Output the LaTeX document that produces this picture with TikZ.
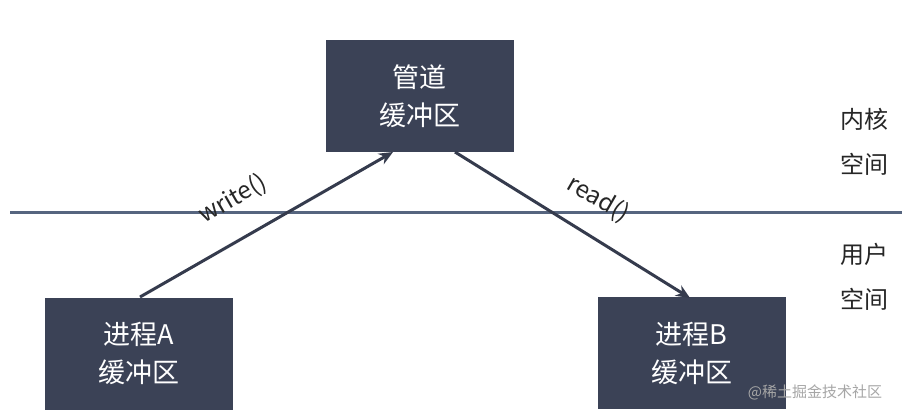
\documentclass[tikz,border=0pt]{standalone}
\usepackage{fontspec}
\setmainfont{Noto Sans CJK SC}
\usetikzlibrary{arrows.meta}
\definecolor{boxc}{HTML}{3B4256}
\definecolor{linec}{HTML}{56657F}
\begin{document}
\begin{tikzpicture}[x=1pt,y=-1pt,
  box/.style={fill=boxc,draw=none,minimum width=188pt,minimum height=112pt,text=white,align=center,font=\fontsize{27}{38}\selectfont},
  arr/.style={draw=boxc!90!black,line width=3pt,-{Stealth[length=14pt,width=12pt]}},
  lab/.style={font=\fontsize{24}{45}\selectfont,align=center,text=black!85}]
\useasboundingbox (0,0) rectangle (909,416);
\fill[white] (0,0) rectangle (909,416);
\node[box] (pipe) at (419.5,96) {管道\\缓冲区};
\node[box] (a) at (139,353.5) {进程A\\缓冲区};
\node[box] (b) at (691.5,353) {进程B\\缓冲区};
\coordinate (l1) at (10,212);
\coordinate (l2) at (902,212);
\draw[linec,line width=3pt] (l1) -- (l2);
\draw[arr] (140,297) -- (393,152);
\draw[arr] (455,152) -- (690,298);
\node[lab,rotate=30] (w) at (233,199) {write()};
\node[lab,rotate=-30] (r) at (598,199) {read()};
\node[lab] (k) at (864,142) {内核\\空间};
\node[lab] (u) at (864,277) {用户\\空间};
\node[text=black!35,font=\fontsize{15}{18}\selectfont] (wm) at (815,392) {@稀土掘金技术社区};
\end{tikzpicture}
\end{document}
